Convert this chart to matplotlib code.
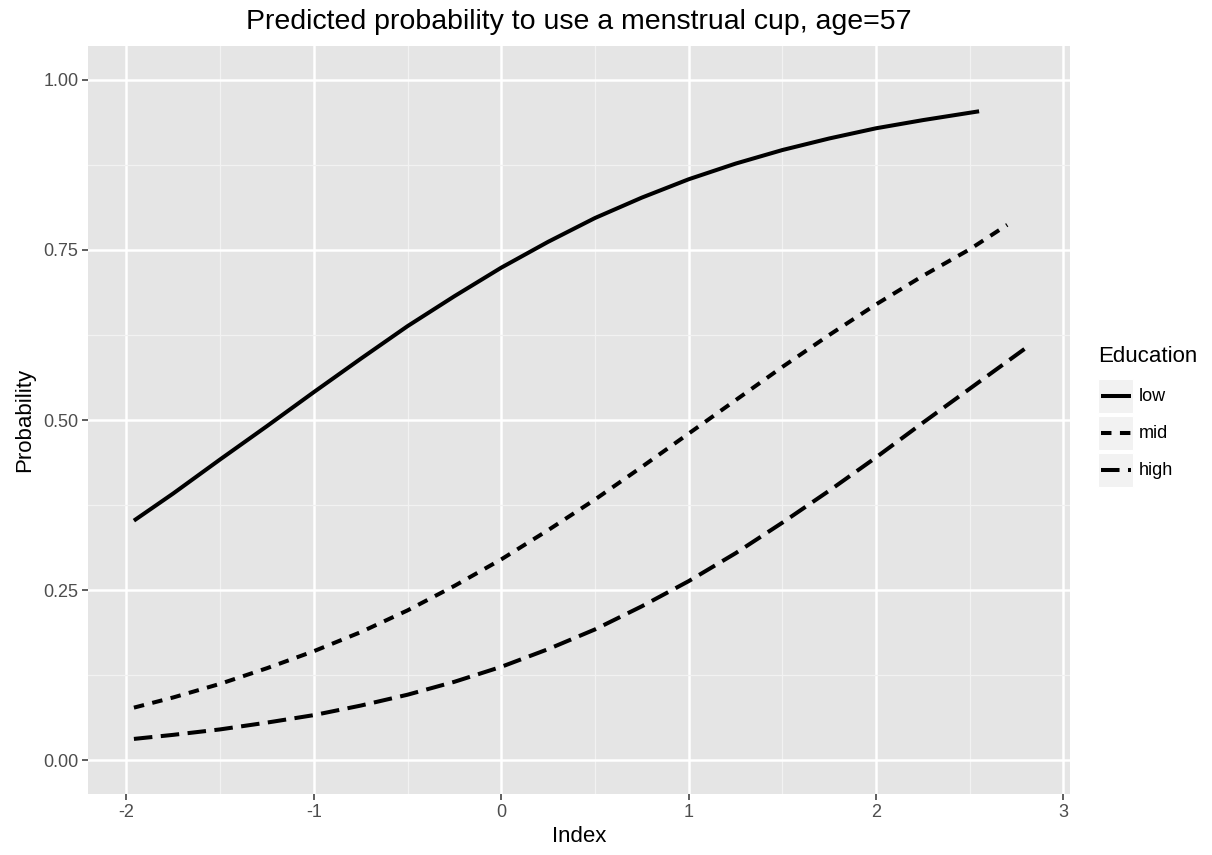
import matplotlib
matplotlib.use("Agg")
import matplotlib.pyplot as plt
from matplotlib.patches import Rectangle
from matplotlib.lines import Line2D

plt.rcParams['font.family'] = ['Liberation Sans', 'DejaVu Sans']

# values
index_low = [-1.96, -1.75, -1.5, -1.25, -1.0, -0.75, -0.5, -0.25, 0.0, 0.25,
             0.5, 0.75, 1.0, 1.25, 1.5, 1.75, 2.0, 2.25, 2.55]
prob_low = [0.352, 0.392, 0.442, 0.491, 0.541, 0.590, 0.638, 0.682, 0.724, 0.762,
            0.797, 0.827, 0.854, 0.877, 0.897, 0.914, 0.929, 0.941, 0.954]

index_mid = [-1.96, -1.75, -1.5, -1.25, -1.0, -0.75, -0.5, -0.25, 0.0, 0.25,
             0.5, 0.75, 1.0, 1.25, 1.5, 1.75, 2.0, 2.25, 2.5, 2.7]
prob_mid = [0.077, 0.092, 0.112, 0.135, 0.160, 0.188, 0.220, 0.256, 0.295, 0.338,
            0.383, 0.431, 0.480, 0.529, 0.578, 0.625, 0.670, 0.712, 0.751, 0.787]

index_high = [-1.96, -1.75, -1.5, -1.25, -1.0, -0.75, -0.5, -0.25, 0.0, 0.25,
              0.5, 0.75, 1.0, 1.25, 1.5, 1.75, 2.0, 2.25, 2.5, 2.8]
prob_high = [0.031, 0.037, 0.045, 0.055, 0.066, 0.080, 0.096, 0.115, 0.137, 0.163,
             0.192, 0.226, 0.263, 0.304, 0.349, 0.396, 0.445, 0.496, 0.546, 0.606]

levels = ["low", "mid", "high"]
dash_styles = {"low": None, "mid": (2.6, 2.1), "high": (4.6, 2.1)}

W, H = 1212, 855
fig = plt.figure(figsize=(W / 100, H / 100), dpi=100)
ax = fig.add_axes([88 / W, 1 - 794 / H, (1070 - 88) / W, (794 - 46) / H])
ax.set_facecolor("#E5E5E5")

series = {"low": (index_low, prob_low), "mid": (index_mid, prob_mid),
          "high": (index_high, prob_high)}
for lev in levels:
    x, y = series[lev]
    line, = ax.plot(x, y, color="black", lw=2.9, solid_capstyle="butt",
                    dash_capstyle="butt", solid_joinstyle="round")
    if dash_styles[lev]:
        line.set_dashes(dash_styles[lev])

ax.set_xlim(-2.205, 3.035)
ax.set_ylim(-0.05, 1.05)
ax.set_xticks([-2, -1, 0, 1, 2, 3])
ax.set_xticklabels(["-2", "-1", "0", "1", "2", "3"])
ax.set_yticks([0, 0.25, 0.5, 0.75, 1.0])
ax.set_yticklabels(["0.00", "0.25", "0.50", "0.75", "1.00"])
ax.set_xticks([-1.5, -0.5, 0.5, 1.5, 2.5], minor=True)
ax.set_yticks([0.125, 0.375, 0.625, 0.875], minor=True)
ax.grid(which="major", color="white", lw=1.8)
ax.grid(which="minor", color="#F2F2F2", lw=0.9)
ax.set_axisbelow(True)
for s in ax.spines.values():
    s.set_visible(False)
ax.tick_params(which="major", length=4, width=1.1, color="#333333",
               labelsize=13, labelcolor="#4D4D4D", pad=3)
ax.tick_params(which="minor", length=0)

ax.set_xlabel("Index", fontsize=16, labelpad=4)
ax.set_ylabel("Probability", fontsize=16, labelpad=6)
ax.set_title("Predicted probability to use a menstrual cup, age=57",
             fontsize=20.5, pad=12)

# legend drawn like ggplot's, in pixel positions
def fx(px):
    return px / W

def fy(py):
    return 1 - py / H

fig.text(fx(1098), fy(357), "Education", fontsize=16, va="center", ha="left")
key_tops = [379, 416, 453]
for lev, top in zip(levels, key_tops):
    fig.add_artist(Rectangle((fx(1098), fy(top + 34)), 35 / W, 34 / H,
                             transform=fig.transFigure, facecolor="#F2F2F2",
                             edgecolor="white", lw=0.8))
    ln = Line2D([fx(1101), fx(1131)], [fy(top + 17)] * 2, transform=fig.transFigure,
                color="black", lw=2.9, solid_capstyle="butt", dash_capstyle="butt")
    if dash_styles[lev]:
        ln.set_dashes(dash_styles[lev])
    fig.add_artist(ln)
    fig.text(fx(1139), fy(top + 17), lev, fontsize=13, va="center", ha="left")

fig.savefig("out.png", dpi=100)
